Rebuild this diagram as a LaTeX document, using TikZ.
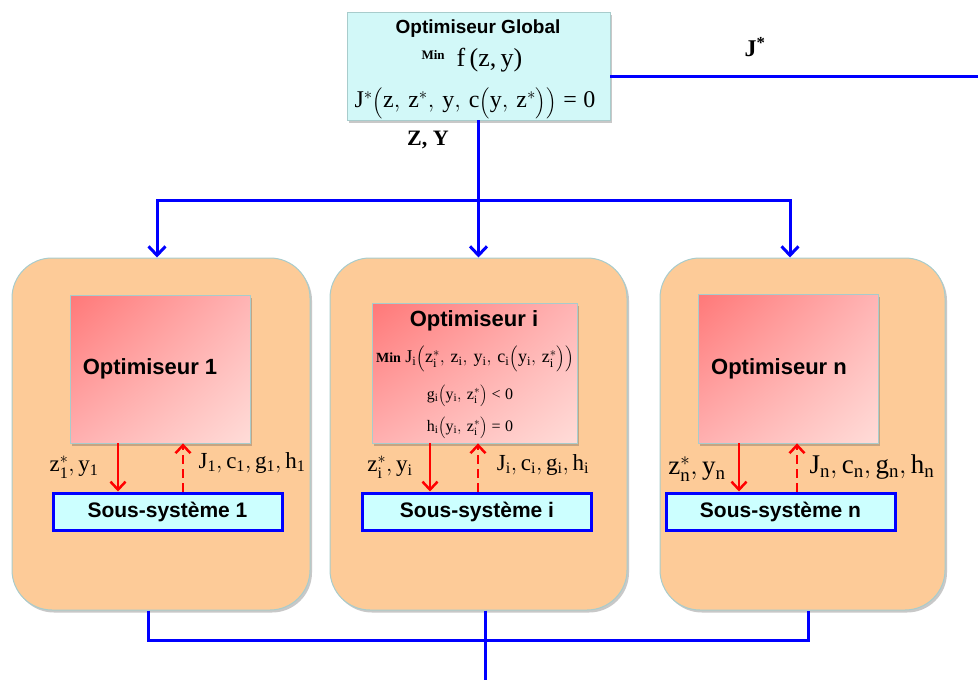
\documentclass[tikz,border=0pt]{standalone}
\usepackage{fix-cm}
\usepackage{amsmath}
\usepackage{fontspec}
\setmainfont{Liberation Serif}
\setsansfont{Liberation Sans}
\usetikzlibrary{arrows.meta,shadows,shadings}
\definecolor{orangebg}{HTML}{FDCB98}
\definecolor{cyanbg}{HTML}{CCFFFF}
\definecolor{globbg}{HTML}{D2F8F8}
\definecolor{edgegray}{HTML}{A8CCCC}
\definecolor{bblue}{HTML}{0000FF}
\definecolor{rred}{HTML}{FF0000}
\definecolor{optA}{HTML}{FF7878}
\definecolor{optB}{HTML}{FFB4B4}
\definecolor{optC}{HTML}{FFB0B0}
\definecolor{optD}{HTML}{FFDCD8}
\newcommand{\teqz}{\;\text{=}\;\text{0}}
\newcommand{\tltz}{\;\text{<}\;\text{0}}
\newcommand{\cm}{,\,}
\newcommand{\lpx}[1]{\mathopen{\text{\fontsize{#1}{#1}\selectfont$\Bigl($}}}
\newcommand{\rpx}[1]{\mathclose{\text{\fontsize{#1}{#1}\selectfont$\Bigr)$}}}
\begin{document}
\begin{tikzpicture}[x=1pt,y=-1pt,
  shadowed/.style={drop shadow={shadow xshift=2pt,shadow yshift=-2.5pt,opacity=0.3,fill=black!70}},
  container/.style={draw=edgegray,line width=1pt,fill=orangebg,rounded corners=40pt,shadowed,minimum height=352pt,inner sep=0pt},
  optbox/.style={draw=edgegray,line width=0.8pt,upper left=optA,upper right=optB,lower left=optC,lower right=optD,shadowed,inner sep=0pt},
  opttext/.style={font=\sffamily\bfseries\fontsize{22}{26}\selectfont,inner sep=0pt},
  ssbox/.style={draw=bblue,line width=3pt,fill=cyanbg,minimum width=229pt,minimum height=37pt,inner sep=0pt,font=\sffamily\bfseries\fontsize{21}{24}\selectfont},
  bline/.style={draw=bblue,line width=3pt},
  barr/.style={bline,-{Straight Barb[length=9pt,width=17pt]}},
  rarr/.style={draw=rred,line width=2.5pt,-{Straight Barb[length=8pt,width=15pt]}},
  rdash/.style={rarr,dash pattern=on 9pt off 5pt},
  lbl/.style={font=\fontsize{23}{27}\selectfont,inner sep=0pt},
  lbln/.style={font=\fontsize{27}{31}\selectfont,inner sep=0pt},
  eqi/.style={font=\fontsize{16}{19}\selectfont,inner sep=0pt},
]
\fill[white] (0,0) rectangle (978,680);
\useasboundingbox (0,0) rectangle (978,680);

% global optimiser
\node[draw=edgegray,line width=0.8pt,fill=globbg,shadowed,minimum width=263pt,minimum height=108pt,inner sep=0pt] (glob) at (478.5,66) {};
\node[font=\sffamily\bfseries\fontsize{19}{22}\selectfont,inner sep=0pt] (gtitle) at (478,29) {Optimiseur Global};
\node[inner sep=0pt] (gmin) at (472,60) {\raisebox{7pt}{\fontsize{13}{15}\selectfont\bfseries Min}\hspace{12pt}{\fontsize{26}{28}\selectfont f\,(z,\,y)}};
\node[font=\fontsize{24}{28}\selectfont,inner sep=0pt] (geq) at (475,103) {$\mathrm{J}^{*}\lpx{19}\mathrm{z}\cm \mathrm{z}^{*}\cm \mathrm{y}\cm \mathrm{c}\lpx{19}\mathrm{y}\cm \mathrm{z}^{*}\rpx{19}\rpx{19}\teqz$};
\node[font=\bfseries\fontsize{22}{26}\selectfont,inner sep=0pt] (zy) at (428,140) {Z, Y};
\node[font=\bfseries\fontsize{24}{28}\selectfont,inner sep=0pt] (jstar) at (755,47) {J\textsuperscript{*}};

% containers
\node[container,minimum width=298pt] (c1) at (161,434) {};
\node[container,minimum width=297pt] (c2) at (478.5,434) {};
\node[container,minimum width=285pt] (c3) at (802.5,434) {};

% optimisers
\node[optbox,minimum width=180pt,minimum height=148pt] (o1) at (160,369) {};
\node[optbox,minimum width=205pt,minimum height=140pt] (oi) at (474.5,373) {};
\node[optbox,minimum width=180pt,minimum height=149pt] (on) at (788,368.5) {};
\node[opttext] (o1t) at (150,369) {Optimiseur 1};
\node[opttext] (ont) at (779,369) {Optimiseur n};
\node[opttext] (oit) at (474,321) {Optimiseur i};
\node[font=\fontsize{18}{19}\selectfont,inner sep=0pt] (oim) at (475,359) {{\fontsize{14}{15}\selectfont\bfseries Min} $\mathrm{J_i}\lpx{14.5}\mathrm{z_i^{*}}\cm\mathrm{z_i}\cm\mathrm{y_i}\cm\mathrm{c_i}\lpx{14.5}\mathrm{y_i}\cm\mathrm{z_i^{*}}\rpx{14.5}\rpx{14.5}$};
\node[eqi] (oig) at (470,396) {$\mathrm{g_i}\lpx{12.5}\mathrm{y_i}\cm\mathrm{z_i^{*}}\rpx{12.5}\tltz$};
\node[eqi] (oih) at (470,428) {$\mathrm{h_i}\lpx{12.5}\mathrm{y_i}\cm\mathrm{z_i^{*}}\rpx{12.5}\teqz$};

% sub-systems
\node[ssbox] (s1) at (167.5,511.5) {Sous-système 1};
\node[ssbox] (si) at (477,511.5) {Sous-système i};
\node[ssbox] (sn) at (780.5,511.5) {Sous-système n};

% red arrows
\coordinate (a1) at (118,0); \coordinate (b1) at (183,0);
\coordinate (ai) at (430,0); \coordinate (bi) at (478,0);
\coordinate (an) at (739,0); \coordinate (bn) at (797,0);
\draw[rarr] (o1.south -| a1) -- (s1.north -| a1);
\draw[rdash] (s1.north -| b1) -- (o1.south -| b1);
\draw[rarr] (oi.south -| ai) -- (si.north -| ai);
\draw[rdash] (si.north -| bi) -- (oi.south -| bi);
\draw[rarr] (on.south -| an) -- (sn.north -| an);
\draw[rdash] (sn.north -| bn) -- (on.south -| bn);

% labels
\node[lbl] (l1a) at (74,467) {$\mathrm{z_1^{*}, y_1}$};
\node[lbl] (l1b) at (252,463) {$\mathrm{J_1, c_1, g_1, h_1}$};
\node[lbl] (lia) at (390,467) {$\mathrm{z_i^{*}, y_i}$};
\node[lbl] (lib) at (543,465) {$\mathrm{J_i, c_i, g_i, h_i}$};
\node[lbln] (lna) at (697,469) {$\mathrm{z_n^{*}, y_n}$};
\node[lbln] (lnb) at (872,467) {$\mathrm{J_n, c_n, g_n, h_n}$};

% blue connectors
\coordinate (split) at (480,200);
\coordinate (jend) at (978,76);
\draw[bline] (glob.east |- jend) -- (jend);
\draw[barr] (glob.south) -- (c2.north);
\draw[barr] (glob.south |- split) -| ([xshift=-4pt]c1.north);
\draw[barr] (glob.south |- split) -| ([xshift=-12.5pt]c3.north);

\coordinate (c1b) at ([xshift=-13pt]c1.south);
\coordinate (c2b) at ([xshift=6.5pt]c2.south);
\coordinate (c3b) at ([xshift=5.5pt]c3.south);
\coordinate (bjoin) at (485,640);
\coordinate (bend) at (485,680);
\draw[bline] (c1b) |- (c3b |- bjoin) -- (c3b);
\draw[bline] (c2b) -- (bend);
\end{tikzpicture}
\end{document}
